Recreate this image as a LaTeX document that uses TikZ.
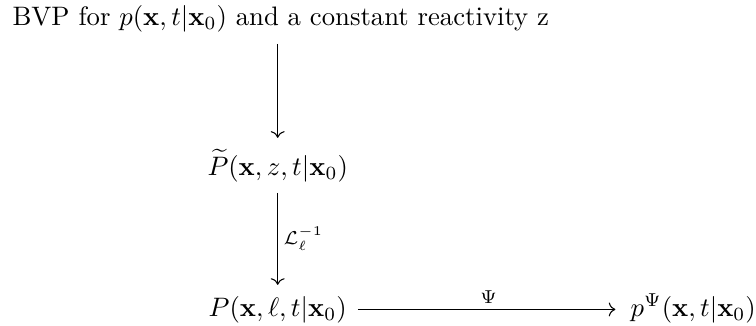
\documentclass[tikz,border=0pt]{standalone}
\usepackage{amsmath}
\usepackage{tikz}
\usetikzlibrary{arrows.meta,positioning,calc}

\begin{document}
\begin{tikzpicture}[
  term/.style={inner sep=4pt, anchor=base},
  arr/.style={->, line width=0.4pt},
  lbl/.style={inner sep=2pt},
]
\useasboundingbox (0,0) rectangle (9.95,-4.29);

% Rows of the diagram
\node[term, anchor=base west] (bvp) at (0.017,-0.342)
  {BVP for $p(\mathbf{x},t|\mathbf{x}_0)$ and a constant reactivity z};
\node[term] (pz) at (3.655,-2.304) {$\widetilde{P}(\mathbf{x},z,t|\mathbf{x}_0)$};
\node[term] (pl) at (3.655,-4.16) {$P(\mathbf{x},\ell,t|\mathbf{x}_0)$};
\node[term, anchor=base west] (ppsi) at (8.152,-4.16) {$p^{\Psi}(\mathbf{x},t|\mathbf{x}_0)$};

% Vertical arrows
\draw[arr] (bvp.south -| pz.north) -- (pz.north);
\draw[arr] (pz.south) --
  node[right,lbl]{$\scriptstyle\mathcal{L}_\ell^{-1}$} (pl.north);

% Horizontal arrow
\draw[arr, shorten >=1.5pt] (pl.east) --
  node[above,lbl]{$\scriptstyle\Psi$} (pl.east -| ppsi.west);

\end{tikzpicture}
\end{document}
